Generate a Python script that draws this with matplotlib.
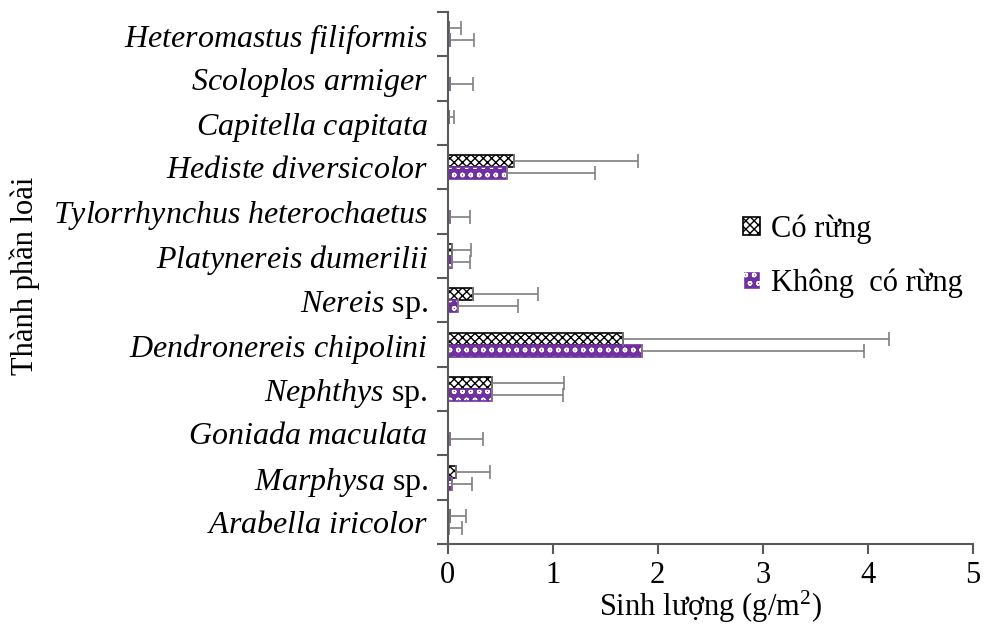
import numpy as np
import matplotlib
matplotlib.use("Agg")
import matplotlib.pyplot as plt

plt.rcParams["font.family"] = ["Liberation Serif", "DejaVu Serif"]
plt.rcParams["mathtext.fontset"] = "custom"
plt.rcParams["mathtext.rm"] = "Liberation Serif"
plt.rcParams["mathtext.it"] = "Liberation Serif:italic"
plt.rcParams["hatch.linewidth"] = 1.0

# Species, bottom to top
species = ["Arabella iricolor", "Marphysa", "Goniada maculata", "Nephthys",
           "Dendronereis chipolini", "Nereis", "Platynereis dumerilii",
           "Tylorrhynchus heterochaetus", "Hediste diversicolor",
           "Capitella capitata", "Scoloplos armiger", "Heteromastus filiformis"]
genus_only = ["Marphysa", "Nephthys", "Nereis"]

# Biomass (g/m2) and standard deviation
co_rung = [0.02, 0.08, 0.0, 0.42, 1.67, 0.24, 0.04, 0.0, 0.63, 0.01, 0.0, 0.01]
co_rung_sd = [0.16, 0.32, 0.0, 0.69, 2.53, 0.62, 0.18, 0.0, 1.18, 0.05, 0.0, 0.12]
khong_rung = [0.01, 0.04, 0.02, 0.42, 1.85, 0.10, 0.04, 0.02, 0.57, 0.0, 0.02, 0.02]
khong_rung_sd = [0.13, 0.19, 0.32, 0.68, 2.11, 0.57, 0.17, 0.19, 0.83, 0.0, 0.22, 0.23]

labels = []
for s in species:
    if s in genus_only:
        labels.append(r"$\mathit{" + s + "}$ sp.")
    else:
        labels.append(r"$\mathit{" + s.replace(" ", r"\ ") + "}$")

purple = "#7030A0"
grey = "#7f7f7f"
y = np.arange(len(species))
h = 0.27

fig = plt.figure(figsize=(9.84, 6.24), dpi=100)
ax = fig.add_axes([0.4548, 0.128, 0.534, 0.853])

err_kw = dict(ecolor=grey, elinewidth=1.2, capsize=5, capthick=1.2)

# Forested plots: white bars with black cross-hatch
ax.barh(y + h / 2, co_rung, height=h, color="white", edgecolor="black",
        hatch="xxxx", linewidth=1.2, xerr=[np.zeros(len(y)), co_rung_sd],
        error_kw=err_kw, label="Có rừng")

# Non-forested plots: purple bars with white pattern
ax.barh(y - h / 2, khong_rung, height=h, color=purple, edgecolor="white",
        hatch="oo", linewidth=0, xerr=[np.zeros(len(y)), khong_rung_sd],
        error_kw=err_kw)
ax.barh(y - h / 2, khong_rung, height=h, fill=False, edgecolor=purple,
        linewidth=1.2)
ax.barh([0], [0], color=purple, edgecolor="white", hatch="oo",
        label="Không  có rừng")

ax.set_xlim(0, 5)
ax.set_ylim(-0.5, len(species) - 0.5)
ax.set_xticks(range(6))
ax.set_yticks(y)
ax.set_yticklabels(labels, fontsize=23)
ax.set_yticks(np.arange(-0.5, len(species), 1.0), minor=True)
ax.tick_params(axis="y", which="major", length=0, pad=14)
ax.tick_params(axis="y", which="minor", length=8, width=1.5, color="#595959")
ax.tick_params(axis="x", length=7, width=1.5, color="#595959", labelsize=22, pad=5)

for side in ["top", "right"]:
    ax.spines[side].set_visible(False)
for side in ["left", "bottom"]:
    ax.spines[side].set_color("#595959")
    ax.spines[side].set_linewidth(1.5)

ax.set_xlabel("Sinh lượng (g/m$^2$)", fontsize=22, labelpad=-1)
fig.text(0.025, 0.558, "Thành phần loài", rotation=90, fontsize=22,
         ha="center", va="center")

ax.legend(loc="center left", bbox_to_anchor=(0.51, 0.541), frameon=False,
          fontsize=22, handlelength=0.55, handleheight=0.55, handletextpad=0.35,
          labelspacing=0.8)

fig.savefig("out.png", dpi=100)
